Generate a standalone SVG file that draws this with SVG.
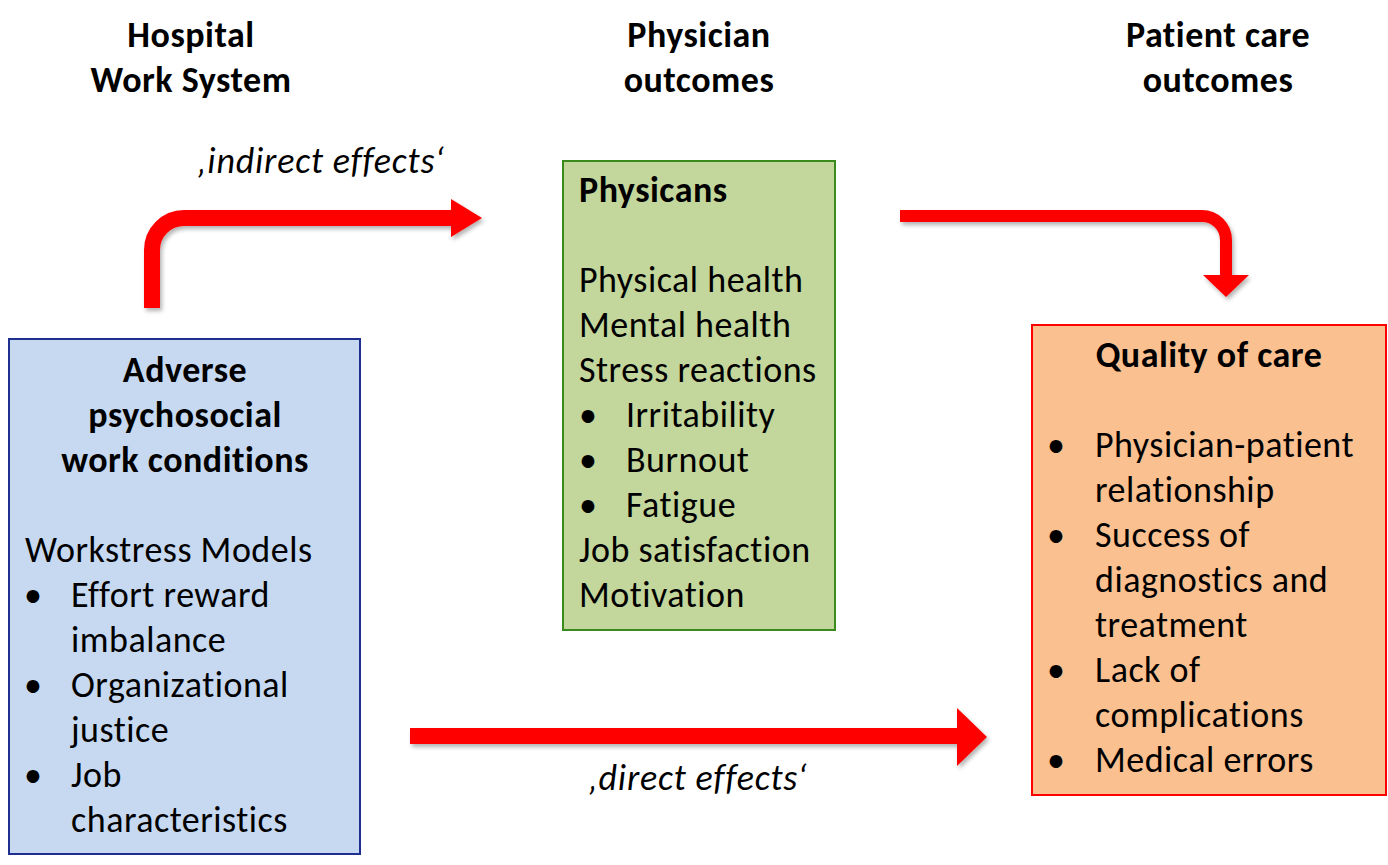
<svg xmlns="http://www.w3.org/2000/svg" width="1388" height="865" viewBox="0 0 1388 865">
  <style>
    text { font-family: Carlito, Lato, "Liberation Sans", sans-serif; font-size: 36px; letter-spacing: 0.5px; fill: #000; }
    .b { font-weight: bold; }
    .c { text-anchor: middle; }
    .i { font-style: italic; letter-spacing: 0.8px; }
    .shaft { fill: none; stroke: #ff0000; stroke-linecap: butt; }
    .head { fill: #ff0000; }
  </style>
  <defs>
    <filter id="shadow" x="-10%" y="-20%" width="130%" height="150%">
      <feDropShadow dx="2" dy="3" stdDeviation="2" flood-color="#000" flood-opacity="0.3"/>
    </filter>
  </defs>

  <rect width="1388" height="865" fill="#ffffff"/>

  <!-- column headings -->
  <g id="headings">
    <text class="b c" x="191" y="47">Hospital</text>
    <text class="b c" x="191" y="92">Work System</text>
    <text class="b c" x="699" y="47">Physician</text>
    <text class="b c" x="699" y="92">outcomes</text>
    <text class="b c" x="1218" y="47">Patient care</text>
    <text class="b c" x="1218" y="92">outcomes</text>
  </g>

  <!-- connectors -->
  <g id="connectors" filter="url(#shadow)">
    <g id="indirect-1">
      <path class="shaft" stroke-width="16" d="M152,308 V250 A32,32 0 0 1 184,218 H452"/>
      <polygon class="head" points="451,199 482,218 451,237"/>
    </g>
    <g id="indirect-2">
      <path class="shaft" stroke-width="12" d="M900,216 H1202 A24,24 0 0 1 1226,240 V276"/>
      <polygon class="head" points="1203,275 1249,275 1226,297"/>
    </g>
    <g id="direct">
      <path class="shaft" stroke-width="16" d="M410,736 H958"/>
      <polygon class="head" points="957,708 987,737 957,766"/>
    </g>
  </g>
  <text class="i c" x="321" y="173">‚indirect effects‘</text>
  <text class="i c" x="698" y="790">‚direct effects‘</text>

  <!-- work conditions -->
  <g id="work-conditions">
    <rect x="9" y="339" width="351" height="515" fill="#c6d9f1" stroke="#1f2f8f" stroke-width="2"/>
    <text class="b c" x="185" y="382">Adverse</text>
    <text class="b c" x="185" y="427">psychosocial</text>
    <text class="b c" x="185" y="472">work conditions</text>
    <text x="25" y="562">Workstress Models</text>
    <text x="24" y="607">•</text><text x="71" y="607">Effort reward</text>
    <text x="71" y="652">imbalance</text>
    <text x="24" y="697">•</text><text x="71" y="697">Organizational</text>
    <text x="71" y="742">justice</text>
    <text x="24" y="787">•</text><text x="71" y="787">Job</text>
    <text x="71" y="832">characteristics</text>
  </g>

  <!-- physician outcomes -->
  <g id="physicians">
    <rect x="563" y="161" width="272" height="469" fill="#c3d69b" stroke="#3a8a1e" stroke-width="2"/>
    <text class="b" x="579" y="202">Physicans</text>
    <text x="579" y="292">Physical health</text>
    <text x="579" y="337">Mental health</text>
    <text x="579" y="382">Stress reactions</text>
    <text x="579" y="427">•</text><text x="626" y="427">Irritability</text>
    <text x="579" y="472">•</text><text x="626" y="472">Burnout</text>
    <text x="579" y="517">•</text><text x="626" y="517">Fatigue</text>
    <text x="579" y="562">Job satisfaction</text>
    <text x="579" y="607">Motivation</text>
  </g>

  <!-- quality of care -->
  <g id="quality-of-care">
    <rect x="1032" y="325" width="354" height="470" fill="#fac090" stroke="#ff0000" stroke-width="2"/>
    <text class="b c" x="1209" y="367">Quality of care</text>
    <text x="1047" y="457">•</text><text x="1095" y="457">Physician-patient</text>
    <text x="1095" y="502">relationship</text>
    <text x="1047" y="547">•</text><text x="1095" y="547">Success of</text>
    <text x="1095" y="592">diagnostics and</text>
    <text x="1095" y="637">treatment</text>
    <text x="1047" y="682">•</text><text x="1095" y="682">Lack of</text>
    <text x="1095" y="727">complications</text>
    <text x="1047" y="772">•</text><text x="1095" y="772">Medical errors</text>
  </g>
</svg>
